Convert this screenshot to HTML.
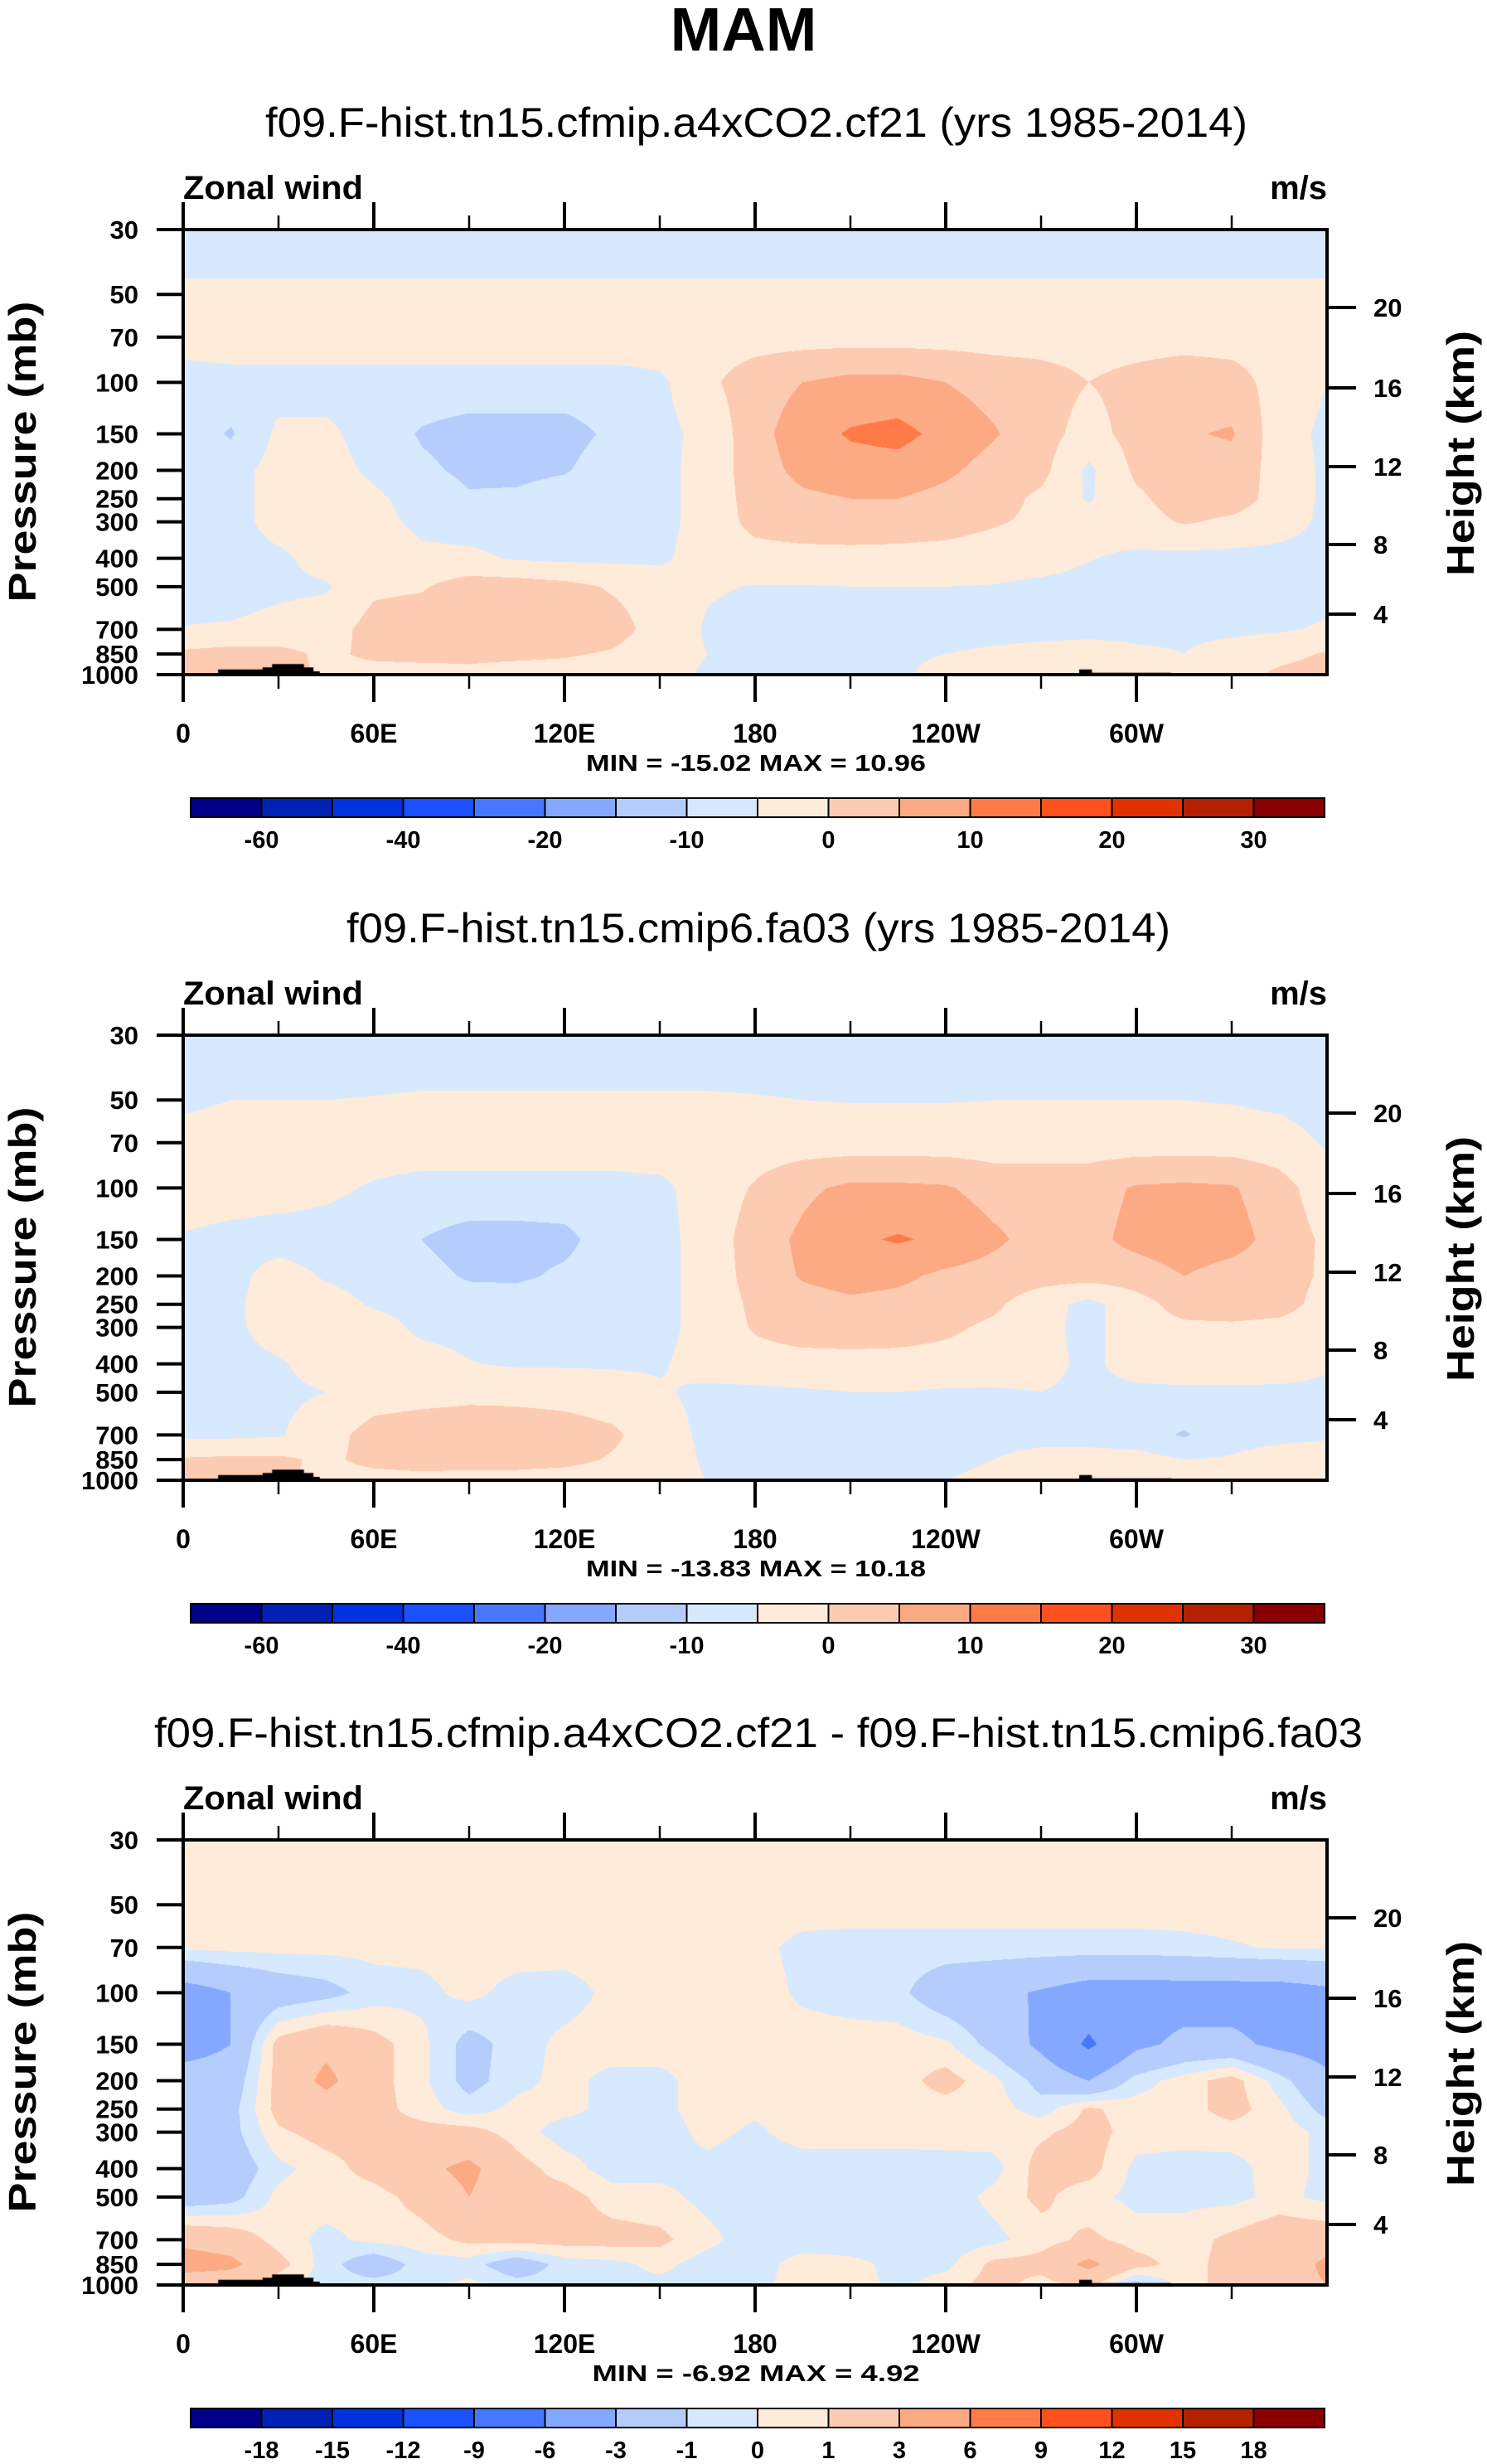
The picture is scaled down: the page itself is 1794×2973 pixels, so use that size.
<!DOCTYPE html>
<html><head><meta charset="utf-8">
<style>
html,body{margin:0;padding:0;background:#fff;}
#wrap{position:relative;width:1794px;height:2973px;overflow:hidden;background:#fff;}
canvas{position:absolute;}
svg{position:absolute;left:0;top:0;}
text{font-family:"Liberation Sans",Arial,sans-serif;fill:#000;}
</style></head>
<body>
<div id="wrap">
<canvas id="c0" width="1380" height="537" style="left:221px;top:277px"></canvas>
<canvas id="c1" width="1380" height="537" style="left:221px;top:1249px"></canvas>
<canvas id="c2" width="1380" height="537" style="left:221px;top:2220px"></canvas>
<svg id="ov" width="1794" height="2973">
<text x="897" y="61" font-size="74" font-weight="bold" text-anchor="middle">MAM</text>
</svg>
</div>
<script>
// ---------- DATA ----------
const levels = [30,50,70,100,150,200,250,300,400,500,700,850,1000];
const lons = [0,15,30,45,60,75,90,105,120,135,150,165,180,195,210,225,240,255,270,285,300,315,330,345,360];
const thresholdsAbs = [-60,-50,-40,-30,-20,-15,-10,-5,0,5,10,15,20,25,30];
const thresholdsDiff = [-18,-15,-12,-9,-6,-3,-1,0,1,3,6,9,12,15,18];
const cbLabelsAbs = ['-60','','-40','','-20','','-10','','0','','10','','20','','30'];
const cbLabelsDiff = ['-18','-15','-12','-9','-6','-3','-1','0','1','3','6','9','12','15','18'];
const lonTickLabels = ['0','60E','120E','180','120W','60W'];
const heightTicks = ['20','16','12','8','4'];
const titles = ['f09.F-hist.tn15.cfmip.a4xCO2.cf21 (yrs 1985-2014)','f09.F-hist.tn15.cmip6.fa03 (yrs 1985-2014)','f09.F-hist.tn15.cfmip.a4xCO2.cf21 - f09.F-hist.tn15.cmip6.fa03'];
const minmax = ['MIN = -15.02  MAX =  10.96','MIN = -13.83  MAX =  10.18','MIN = -6.92  MAX =  4.92'];

const u1 = [
[-8,-8,-8,-8,-8,-8,-8,-8,-8,-8,-8,-8,-8,-8,-8,-8,-8,-8,-8,-8,-8,-8,-8,-8,-8],
[-4,-4,-4,-4,-4,-4,-4,-4,-4,-4,-4,-4,-4,-4,-4,-4,-4,-4,-4,-4,-4,-4,-4,-4,-4],
[-3,-2,-2,-2,-2,-2,-2,-2,-2,-2,-2,-2,-2,-2,-2,-2,-2,-2,-2,-2,-2,-2,-2,-2,-3],
[-7,-7,-7,-7,-7,-7,-7,-7,-7,-7,-6,-1,2.5,5,6.5,6.5,5,3,2,0,1.5,3,2,-2,-5],
[-7,-10.5,-4,-4,-7,-10.5,-12,-12,-12,-9,-6.5,-3.5,3,8,10.5,11.5,8.5,5.5,2,-2,2,4.5,5.5,-3,-6],
[-7,-7,-3,-3,-6,-9,-11,-11.5,-10.5,-7,-6.5,-3,2.5,6.5,8,8,6,3,1.5,-6,1,3,3,-2,-6],
[-7,-7,-3,-2,-4,-7,-9.5,-9,-7,-6,-6.5,-3,2,4,5,5,3.5,2,-1,-5.5,-1,2.5,2.5,-2,-6],
[-7,-7,-3,-3,-3.5,-6,-7,-7,-6.5,-6,-6.5,-3,1.5,3,3.5,3,2,0.5,-1,-3,-2,0.5,-1,-3,-6],
[-7,-7,-6,-3,-2,-4,-4,-5.5,-6,-6,-6,-2.5,-2,-2,-2,-2,-2,-2.5,-3,-4.8,-6,-6.5,-6.5,-6.5,-6.5],
[-7,-7,-6,-5.5,-1,-0.5,2.5,2.5,1.5,-0.5,-2,-4.5,-5.2,-5.2,-5,-5,-5,-5.2,-6,-6.5,-6.5,-6.5,-6.5,-6.5,-6.5],
[-4.8,-4.5,-3.5,-2.5,2,3,3,3,3,2,-2,-5.5,-7,-7,-7,-7,-7,-7,-7,-7,-6.5,-6,-6,-5.5,-4.5],
[1,2,1.5,-1,1,1.5,1,1,0.5,-0.5,-3,-5,-5.5,-6,-6,-5.5,-5,-4,-3,-2,-4,-5,-3,-1.5,0.5],
[2,3,2,-1,-2,-2,-1,-2,-2,-3,-4,-5.5,-6,-6,-6,-5.5,-4,-3,-1,0.5,-2,-5,-2,1,2]
];
const u2 = [
[-8,-8,-8,-8,-8,-8,-8,-8,-8,-8,-8,-8,-8,-8,-8,-8,-8,-8,-8,-8,-8,-8,-8,-8,-8],
[-6,-5,-5,-5,-4.8,-4.5,-4.5,-4.5,-4.5,-4.5,-4.5,-4.5,-4.7,-5,-5.2,-5.2,-5.2,-5,-5,-5,-5,-5,-5.3,-6,-7],
[-3,-2.5,-2.5,-2.5,-2.5,-2.5,-2.5,-2.5,-2.5,-2.5,-2.5,-2.5,-2.5,-2.5,-2.5,-2.5,-2.5,-2.5,-2.5,-2.5,-2.5,-2.5,-2.5,-3,-5.5],
[-2,-2.5,-3,-4,-5.5,-6.5,-6.5,-6.5,-6.5,-6.5,-6,-3,0.5,4,6,6,5.5,3,3,3,5.5,6,5.5,2,-3],
[-5.5,-6.5,-7,-7,-7.5,-10,-12,-12,-11.5,-7,-6.5,-3,2.5,6,9,10.5,9,6,3,3.5,6.5,8,7,3,-1],
[-6.5,-6.5,-3,-5.5,-7,-8.5,-10.5,-11,-9,-7,-6.5,-3,2,5.5,7,6,4,3,2,2,2.5,5,3,2.5,-1],
[-6.5,-6,-2.5,-3,-5.5,-6.5,-8,-7,-6.5,-6.5,-6.5,-3,1,3,4,3.5,3,1,-3,-6.5,-2,2,3,2,-2],
[-6.5,-6,-3,-2.5,-3,-6,-6.5,-6.5,-6.5,-6.5,-6.5,-3,0.5,2.5,3,2.5,1,-1,-3.5,-6.5,-2,-1,-1,-1.5,-3],
[-7,-6.5,-5.5,-3,-2.5,-3,-4.8,-5.5,-5.5,-5.5,-5.5,-3,-2,-2,-2,-2,-2,-2.5,-3.5,-6,-3,-2,-2,-2.5,-4.5],
[-7,-7,-6,-5,-2.5,-2,-1.5,-1.5,-2,-3,-4.5,-6,-6,-5.5,-5,-5,-5.5,-5.5,-5,-6,-6,-6,-6,-6,-6],
[-6,-6,-5.5,-2,2,3,3.5,3,2.5,1,-3,-6,-7,-7,-7,-7,-7,-7,-7,-7.5,-8,-10.5,-7,-6.5,-6],
[0.5,1,1,-1,1.5,2,2,2,1.5,-0.5,-3,-5.5,-6.5,-6.5,-6.5,-6.5,-6,-5,-3,-2.5,-3,-5,-4.5,-2.5,-1.5],
[1,2,1.5,-2,-2,-1.5,-2,-2,-2.5,-3,-4,-5,-5.5,-5.5,-5.5,-5.5,-5,-4,-3,0.5,-3,-5,-4,-2,-1]
];
const u3 = [
[0.5,0.5,0.5,0.5,0.5,0.5,0.5,0.5,0.5,0.5,0.5,0.5,0.5,0.5,0.5,0.5,0.5,0.5,0.5,0.5,0.5,0.5,0.5,0.5,0.5],
[0.5,0.5,0.5,0.5,0.5,0.5,0.5,0.5,0.5,0.5,0.5,0.5,0.5,0.5,0.5,0.5,0.5,0.5,0.5,0.5,0.5,0.5,0.5,0.5,0.5],
[0.2,0.3,0.3,0.3,0.3,0.3,0.5,0.5,0.5,0.5,0.5,0.5,0.3,-0.3,-0.4,-0.4,-0.4,-0.4,-0.4,-0.4,-0.4,-0.3,-0.1,0.1,0.1],
[-4,-3,-2,-1.5,-0.5,-0.3,0.3,-0.4,-0.5,0.3,0.5,0.5,0.5,-0.2,-0.5,-0.7,-2,-2.5,-3.2,-4,-4,-4,-4,-4,-3.5],
[-4,-3,1.5,2.5,1.5,0.3,-1.5,-0.5,0.3,0.5,0.5,0.5,0.5,0.5,0.5,0.5,0.2,-1.5,-3.5,-6.5,-3.5,-2.5,-2.5,-3.5,-4],
[-2,-2,1.5,3.5,1.5,0.3,-1.5,-0.3,0.3,-0.3,-0.3,0.5,0.3,0.5,0.5,0.5,1.5,0.3,-1.5,-3,-0.5,0.5,1.5,-0.5,-2.5],
[-2,-1.5,1.5,2,1.5,0.5,-0.5,0.3,0.3,-0.3,-0.3,0.5,0.2,0.5,0.5,0.5,0.5,0.5,-0.5,1.2,0.5,0.5,1.5,0.3,-1.5],
[-2,-1.5,0.8,1.5,1.5,1.5,1.5,0.5,-0.5,-0.5,-0.5,0.3,-0.2,0.5,0.5,0.5,0.5,0.5,0.8,1.5,0.5,0.5,0.5,0.5,-0.3],
[-1.5,-2,-0.3,0.5,1.5,2.5,3.5,1.5,0.5,-0.5,-0.3,-0.3,-0.6,-0.6,-0.6,-0.6,-0.5,-0.4,1.5,1.5,-0.3,-0.5,-0.4,0.5,-0.3],
[-2,-1.5,0.3,0.5,0.5,1.5,3,1.5,1.5,0.5,0.3,-0.3,-0.6,-0.6,-0.6,-0.6,-0.6,0.3,1.3,0.3,-0.3,-0.3,-0.3,0.3,-0.3],
[2.5,2,0.5,-0.3,0.3,0.5,1.3,1.5,1.5,1.5,1.3,0.3,-0.6,-0.6,-0.6,-0.6,-0.6,-0.3,0.5,1.3,0.5,0.5,1.3,2,2],
[4,3.5,1.5,-0.5,-2,-0.5,-0.5,-2,-0.5,-0.3,0.3,-0.5,-0.5,0.5,0.3,-0.3,-0.3,1.3,1.5,3.5,1.5,0.5,1.5,1.5,3.5],
[1.5,1.5,0.3,-0.5,-0.5,-0.5,0.3,-0.5,-0.5,-0.3,-0.3,-0.3,-0.3,0.5,0.5,-0.3,0.5,1.5,0.5,1.5,-1.5,0.5,1.5,2,3]
];
// topography (surface pressure, mb) along longitude
const topoLon = [9,11,22,25,28,36,38,41,43, 280,282,284,286,309,311];
const topoPs  = [1000,960,960,945,920,920,945,975,1000, 1000,960,960,985,985,1000];

const colors = ['#00008a','#0022b4','#0032e0','#1a50ff','#4678ff','#84a8ff','#b4cdfc','#d6e9fe','#ffebd9','#fdcbb2','#fcaa84','#fe7b48','#ff501d','#e03200','#b42000','#8a0000'];

// ---------- GEOMETRY ----------
const PL = 221, PW = 1380, PH = 537;
const panelTops = [277, 1249, 2220];
const LNR = Math.log(1000/30);
function yOfP(p){ return PH*Math.log(p/30)/LNR; }
function xOfLon(l){ return PW*l/360; }

function hexRGB(h){ return [parseInt(h.substr(1,2),16),parseInt(h.substr(3,2),16),parseInt(h.substr(5,2),16)]; }
const rgb = colors.map(hexRGB);

function renderPanel(ci, grid, thr){
  const cv = document.getElementById('c'+ci);
  const ctx = cv.getContext('2d');
  const img = ctx.createImageData(PW, PH);
  const lnL = levels.map(Math.log);
  for(let y=0;y<PH;y++){
    const lp = Math.log(30) + (y+0.5)/PH*LNR;
    let k=0; while(k<levels.length-2 && lp>lnL[k+1]) k++;
    let ty=(lp-lnL[k])/(lnL[k+1]-lnL[k]); ty=Math.max(0,Math.min(1,ty));
    for(let x=0;x<PW;x++){
      const lon=(x+0.5)/PW*360;
      let i=Math.min(lons.length-2,Math.floor(lon/15));
      const tx=(lon-lons[i])/15;
      const v=(grid[k][i]*(1-tx)+grid[k][i+1]*tx)*(1-ty)+(grid[k+1][i]*(1-tx)+grid[k+1][i+1]*tx)*ty;
      let c=0; while(c<thr.length && v>=thr[c]) c++;
      const o=(y*PW+x)*4, col=rgb[c];
      img.data[o]=col[0]; img.data[o+1]=col[1]; img.data[o+2]=col[2]; img.data[o+3]=255;
    }
  }
  ctx.putImageData(img,0,0);
  ctx.fillStyle='#000';
  const segs=[[0,9],[9,15]];
  segs.forEach(s=>{
    ctx.beginPath();
    for(let j=s[0];j<s[1];j++){
      const px=xOfLon(topoLon[j]), py=yOfP(topoPs[j]);
      if(j===s[0]) ctx.moveTo(px,PH);
      ctx.lineTo(px,py);
      if(j<s[1]-1) ctx.lineTo(xOfLon(topoLon[j+1]),py);
    }
    ctx.lineTo(xOfLon(topoLon[s[1]-1]),PH);
    ctx.closePath(); ctx.fill();
  });
}
renderPanel(0,u1,thresholdsAbs);
renderPanel(1,u2,thresholdsAbs);
renderPanel(2,u3,thresholdsDiff);

// ---------- OVERLAY ----------
const NS='http://www.w3.org/2000/svg';
const ov=document.getElementById('ov');
function mk(tag,attrs,txt){ const e=document.createElementNS(NS,tag); for(const k in attrs) e.setAttribute(k,attrs[k]); if(txt!==undefined) e.textContent=txt; ov.appendChild(e); return e; }

const heightOffsets=[94,191,286,380,464];
const titleSpan=[[320,1185],[418,994],[186,1458]];

for(let pi=0;pi<3;pi++){
  const T=panelTops[pi];
  const off=T-277;
  let el;
  el=mk('text',{x:titleSpan[pi][0],y:165+off,'font-size':50,textLength:titleSpan[pi][1],lengthAdjust:'spacingAndGlyphs'},titles[pi]);
  
  
  el=mk('text',{x:221,y:240+off,'font-size':40,'font-weight':'bold',textLength:217,lengthAdjust:'spacingAndGlyphs'},'Zonal wind');
  
  
  el=mk('text',{x:1601,y:240+off,'font-size':40,'font-weight':'bold','text-anchor':'end'},'m/s');
  
  
  levels.forEach(p=>{
    const y=T+yOfP(p);
    let t=mk('line',{x1:189,x2:221,y1:y,y2:y,stroke:'#000','stroke-width':4});
    
    
    let l=mk('text',{x:167,y:y+11,'font-size':31,'font-weight':'bold','text-anchor':'end'},String(p));
    
    
  });
  heightTicks.forEach((h,j)=>{
    const y=T+heightOffsets[j];
    let t=mk('line',{x1:1601,x2:1636,y1:y,y2:y,stroke:'#000','stroke-width':4});
    
    
    let l=mk('text',{x:1657,y:y+11,'font-size':31,'font-weight':'bold'},h);
    
    
  });
  for(let lo=0;lo<=330;lo+=30){
    const x=PL+xOfLon(lo); const major=lo%60===0;
    let t=mk('line',{x1:x,x2:x,y1:T-(major?33:17),y2:T,stroke:'#000','stroke-width':major?4:2.5});
    
    
    let b=mk('line',{x1:x,x2:x,y1:T+PH,y2:T+PH+(major?33:17),stroke:'#000','stroke-width':major?4:2.5});
    
    
    if(major){
      let l=mk('text',{x:x,y:T+619,'font-size':32,'font-weight':'bold','text-anchor':'middle'},lonTickLabels[lo/60]);
      
      
    }
  }
  el=mk('rect',{x:PL,y:T,width:PW,height:PH,fill:'none',stroke:'#000','stroke-width':4});
  
  
  el=mk('text',{x:912,y:T+653,'font-size':28,'font-weight':'bold','text-anchor':'middle',textLength:pi===2?395:410,lengthAdjust:'spacingAndGlyphs','xml:space':'preserve'},minmax[pi]);
  
  
  el=mk('text',{x:0,y:0,'font-size':46,'font-weight':'bold','text-anchor':'middle',transform:'translate(43,'+(T+268)+') rotate(-90)',textLength:363,lengthAdjust:'spacingAndGlyphs'},'Pressure (mb)');
  
  
  el=mk('text',{x:0,y:0,'font-size':46,'font-weight':'bold','text-anchor':'middle',transform:'translate(1778,'+(T+270)+') rotate(-90)',textLength:296,lengthAdjust:'spacingAndGlyphs'},'Height (km)');
  
  
  const cbY=963+off, cbX=230, bw=85.5, cbH=23;
  colors.forEach((c,j)=>{
    let r=mk('rect',{x:cbX+j*bw,y:cbY,width:bw,height:cbH,fill:c,stroke:'#000','stroke-width':2});
    
    
  });
  const labs = pi===2?cbLabelsDiff:cbLabelsAbs;
  labs.forEach((s,j)=>{
    if(!s) return;
    let l=mk('text',{x:cbX+(j+1)*bw,y:cbY+60,'font-size':29,'font-weight':'bold','text-anchor':'middle'},s);
    
    
  });
}
</script>
</body></html>
